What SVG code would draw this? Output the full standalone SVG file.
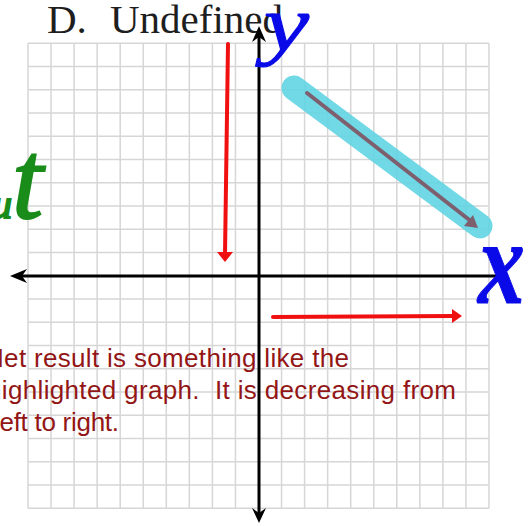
<svg xmlns="http://www.w3.org/2000/svg" width="528" height="526" viewBox="0 0 528 526">
<style>
.grid{stroke:#d6d6d6;stroke-width:1.5;fill:none}
.axis{stroke:#000;stroke-width:3;fill:none}
.head{fill:#000}
.red{stroke:#f01010;stroke-width:4;fill:none;stroke-linecap:round}
.redhead{fill:#f01010}
.title{font-family:"Liberation Serif","Times New Roman",serif;font-size:41px;fill:#1e1e1e}
.note{font-family:"Liberation Sans",Arial,sans-serif;font-size:26px;fill:#931616}
.ink{font-family:"Liberation Serif","Times New Roman",serif;font-style:italic}
</style>
<rect width="528" height="526" fill="#fff"/>
<g id="grid">
<path class="grid" d="M28,43.3V508.3M51.05,43.3V508.3M74.1,43.3V508.3M97.15,43.3V508.3M120.2,43.3V508.3M143.25,43.3V508.3M166.3,43.3V508.3M189.35,43.3V508.3M212.4,43.3V508.3M235.45,43.3V508.3M281.55,43.3V508.3M304.6,43.3V508.3M327.65,43.3V508.3M350.7,43.3V508.3M373.75,43.3V508.3M396.8,43.3V508.3M419.85,43.3V508.3M442.9,43.3V508.3M465.95,43.3V508.3M489,43.3V508.3"/>
<path class="grid" d="M28,43.3H489M28,66.55H489M28,89.8H489M28,113.05H489M28,136.3H489M28,159.55H489M28,182.8H489M28,206.05H489M28,229.3H489M28,252.55H489M28,299.05H489M28,322.3H489M28,345.55H489M28,368.8H489M28,392.05H489M28,415.3H489M28,438.55H489M28,461.8H489M28,485.05H489M28,508.3H489"/>
</g>
<g id="title">
<text class="title" x="47" y="33">D.</text>
<text class="title" x="110" y="33">Undefined</text>
</g>
<g id="axes">
<line class="axis" x1="259" y1="32" x2="259" y2="518"/>
<line class="axis" x1="16" y1="276" x2="497" y2="276"/>
<path class="head" d="M259,26L252,42L259,37L266,42Z"/>
<path class="head" d="M259,523L252,508L259,513L266,508Z"/>
<path class="head" d="M10,276L27,269L22,276L27,283Z"/>
</g>
<g id="highlight">
<line x1="294" y1="88" x2="480" y2="226" stroke="#62d4e4" stroke-width="25" stroke-linecap="round" opacity="0.9"/>
<line x1="307" y1="93" x2="472" y2="222" stroke="#7d5f6e" stroke-width="4" stroke-linecap="round"/>
<path d="M478,228L464,226L473,215Z" fill="#7d5f6e"/>
</g>
<g id="connectors">
<line class="red" x1="228" y1="44" x2="225" y2="254"/>
<path class="redhead" d="M217,252L233,252L225,262Z"/>
<line class="red" x1="273" y1="317" x2="454" y2="316"/>
<path class="redhead" d="M452,309L462,316L452,323Z"/>
</g>
<g id="note">
<text class="note" x="-15" y="367" textLength="364">Net result is something like the</text>
<text class="note" x="-13" y="399" textLength="469" xml:space="preserve">highlighted graph.  It is decreasing from</text>
<text class="note" x="-6" y="431" textLength="125">left to right.</text>
</g>
<g id="handwriting">
<text class="ink" x="-8" y="218" fill="#1a8c1a" stroke="#1a8c1a" stroke-width="2"><tspan font-size="40">u</tspan><tspan font-size="112">t</tspan></text>
<text class="ink" transform="translate(264,50) scale(1.3,1)" font-size="78" fill="#0a0ae8" stroke="#0a0ae8" stroke-width="1">y</text>
<text class="ink" transform="translate(478,303) scale(0.78,1)" font-size="120" font-weight="bold" fill="#0a0ae8" stroke="#0a0ae8" stroke-width="1">x</text>
</g>
</svg>
